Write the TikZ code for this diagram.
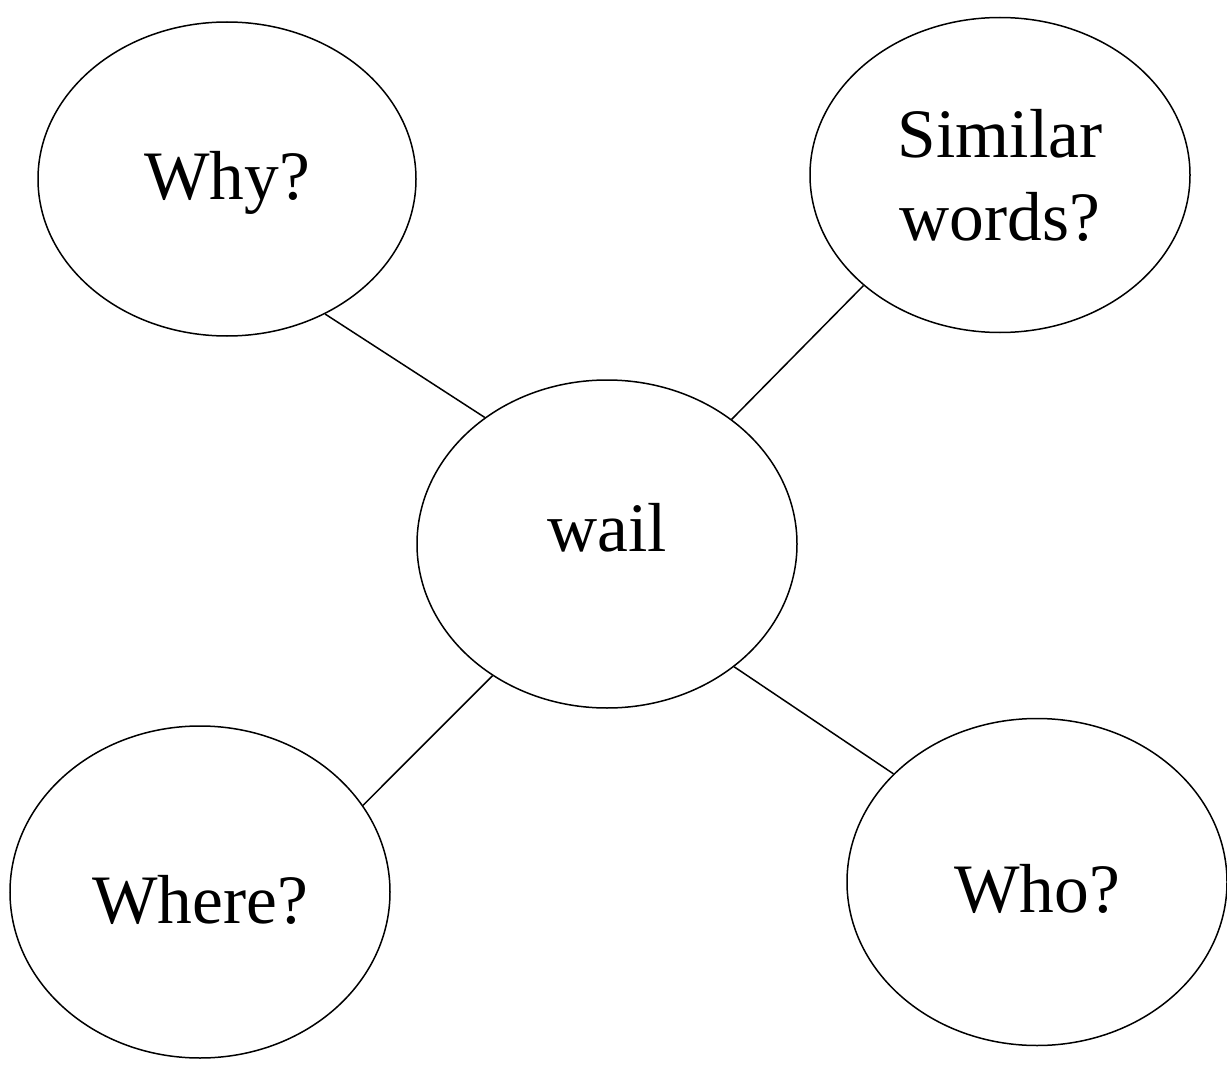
\documentclass[tikz,border=0pt]{standalone}
\usepackage{fontspec}
\setmainfont{Liberation Serif}
\usetikzlibrary{shapes.geometric}

\tikzset{
    bubble/.style={ellipse, draw, line width=0.75pt, inner sep=0pt, align=center,
        minimum width=190pt, font=\fontsize{34.7}{41.5}\selectfont},
    link/.style={draw, line width=0.75pt}
}

\begin{document}
\begin{tikzpicture}[x=0.5pt,y=-0.5pt]
    \useasboundingbox (0,0) rectangle (1227,1070);
    \node (wail) [bubble, minimum height=164pt] at (607,544) {\raisebox{8pt}[\height][\depth]{wail}};
    \node (why) [bubble, minimum width=189pt, minimum height=157pt] at (227,179) {\raisebox{-2pt}[\height][\depth]{Why?}};
    \node (similar) [bubble, minimum height=157.5pt] at (1000,175) {Similar\\words?};
    \node (where) [bubble, minimum height=166pt] at (200,892) {\raisebox{-4pt}[\height][\depth]{Where?}};
    \node (who) [bubble, minimum height=163.5pt] at (1037,882) {\raisebox{-3.5pt}[\height][\depth]{Who?}};
    \draw [link] (why.-54) to (wail.134);
    \draw [link] (similar.-141) to (wail.45);
    \draw [link] (wail.-131) to (where.28);
    \draw [link] (wail.-44) to (who.143);
\end{tikzpicture}
\end{document}
